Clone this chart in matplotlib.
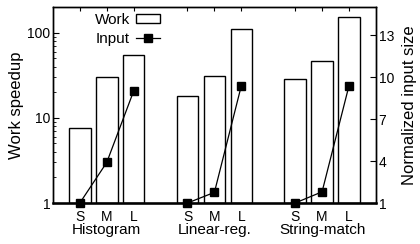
import matplotlib.pyplot as plt

plt.rcParams["font.family"] = ["Liberation Sans", "DejaVu Sans"]

groups = ["Histogram", "Linear-reg.", "String-match"]
sizes = ["S", "M", "L"]
# work speedup (left, log axis)
work = [[7.6, 30.1, 54.6], [18.1, 30.6, 110], [28.8, 46.4, 153]]
# normalized input size (right, linear axis)
inputs = [[1, 3.9, 9.0], [1, 1.76, 9.38], [1, 1.8, 9.38]]
right_ticks = [1, 4, 7, 10, 13]

fig = plt.figure(figsize=(4.2, 2.44), dpi=100)
ax = fig.add_axes([0.126, 0.168, 0.769, 0.803])
ax2 = ax.twinx()

xpos = []
for g in range(len(groups)):
    xs = [g * 4 + i for i in range(3)]
    xpos += xs
    ax.bar(xs, [w - 1 for w in work[g]], width=0.8, bottom=1, color="white",
           edgecolor="black", linewidth=1,
           label="Work" if g == 0 else None, zorder=2)
    ax2.plot(xs, inputs[g], color="black", lw=0.9, marker="s", ms=5.5,
             clip_on=False, label="Input" if g == 0 else None, zorder=3)

ax.set_yscale("log")
ax.set_ylim(1, 200)
ax.set_xlim(-1, 11)
ax2.set_ylim(1, 15)
ax2.set_yticks(right_ticks)
ax.set_yticks([1, 10, 100])
ax.set_yticklabels(["1", "10", "100"])

ax.set_xticks(xpos)
ax.set_xticklabels(sizes * 3)
ax.tick_params(axis="x", direction="in", length=3, top=True, labelsize=10, pad=5)
ax.tick_params(axis="y", which="both", direction="in", labelsize=10, pad=2)
ax.tick_params(axis="y", which="major", length=4)
ax.tick_params(axis="y", which="minor", length=2)
ax2.tick_params(axis="y", direction="in", length=4, labelsize=10, pad=2)

for g, name in enumerate(groups):
    ax.text(g * 4 + 1, -0.158, name, transform=ax.get_xaxis_transform(),
            ha="center", va="baseline", fontsize=11)

ax.set_ylabel("Work speedup", fontsize=12, labelpad=2)
ax2.set_ylabel("Normalized input size", fontsize=12, labelpad=6)

for a in (ax, ax2):
    for s in a.spines.values():
        s.set_linewidth(1)
ax.spines["bottom"].set_linewidth(1.8)

h1, l1 = ax.get_legend_handles_labels()
h2, l2 = ax2.get_legend_handles_labels()
ax.legend(h1 + h2, l1 + l2, loc="upper left", bbox_to_anchor=(0.086, 1.04),
          frameon=False, markerfirst=False, fontsize=11, handlelength=1.6,
          handletextpad=0.4, labelspacing=0.3, handleheight=0.5)

fig.savefig("out.png", dpi=100)
